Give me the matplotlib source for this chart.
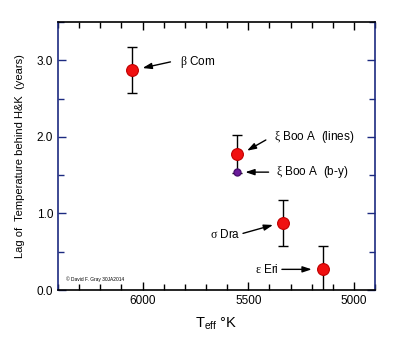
import matplotlib
matplotlib.use("Agg")
import matplotlib.pyplot as plt
from matplotlib.ticker import MultipleLocator

plt.rcParams['font.family'] = ['Liberation Sans', 'DejaVu Sans']
plt.rcParams['mathtext.fontset'] = 'custom'
plt.rcParams['mathtext.rm'] = 'Liberation Serif'
plt.rcParams['mathtext.sf'] = 'Liberation Sans'

# --- data ---
stars = ["beta Com", "xi Boo A (lines)", "sigma Dra", "eps Eri"]
teff = [6050, 5553, 5336, 5148]
lag = [2.88, 1.78, 0.88, 0.28]
lag_err = [0.30, 0.25, 0.30, 0.30]

by_teff = [5553]
by_lag = [1.54]

navy = "#1c2a80"

fig = plt.figure(figsize=(3.97, 3.40), dpi=100)
ax = fig.add_axes([0.146, 0.147, 0.799, 0.788])

ax.errorbar(teff, lag, yerr=lag_err, fmt='none', ecolor='black',
            elinewidth=1.0, capsize=3.8, capthick=1.0, zorder=2)
ax.plot(teff, lag, 'o', color='#f01010', markeredgecolor='#c00000',
        markeredgewidth=0.8, markersize=8.5, zorder=3)
ax.plot(by_teff, by_lag, 'o', color='#6a1b9a', markeredgecolor='#4a0f70',
        markersize=5, zorder=3)

ax.set_xlim(6400, 4900)
ax.set_ylim(0, 3.5)
ax.xaxis.set_major_locator(MultipleLocator(500))
ax.xaxis.set_minor_locator(MultipleLocator(100))
ax.yaxis.set_major_locator(MultipleLocator(1.0))
ax.yaxis.set_minor_locator(MultipleLocator(0.5))
ax.yaxis.set_major_formatter(plt.FormatStrFormatter('%.1f'))

ax.tick_params(which='both', direction='in', top=True, right=True,
               labelsize=8.5, width=1.0)
ax.tick_params(which='major', length=6)
ax.tick_params(which='minor', length=4)
ax.tick_params(axis='y', which='both', color=navy)

for side in ['left', 'right']:
    ax.spines[side].set_color(navy)
    ax.spines[side].set_linewidth(1.2)
for side in ['top', 'bottom']:
    ax.spines[side].set_linewidth(1.2)

ax.set_ylabel("Lag of  Temperature behind H&K  (years)", fontsize=8, labelpad=8)
ax.set_xlabel(r"T$_{\mathsf{eff}}$ °K", fontsize=10.5, labelpad=6)

arrow = dict(arrowstyle='-|>,head_length=0.6,head_width=0.2', color='black',
             lw=1.0, mutation_scale=9, shrinkA=0, shrinkB=0)
fs = 8.5
ax.annotate("", xy=(6000, 2.90), xytext=(5868, 2.98), arrowprops=arrow)
ax.text(5821, 2.98, r"$\mathrm{β}$ Com", fontsize=fs, va='center', ha='left')

ax.annotate("", xy=(5506, 1.82), xytext=(5417, 1.96), arrowprops=arrow)
ax.text(5380, 2.00, r"$\mathrm{ξ}$ Boo A  (lines)", fontsize=fs, va='center', ha='left')

ax.annotate("", xy=(5514, 1.54), xytext=(5404, 1.54), arrowprops=arrow)
ax.text(5370, 1.54, r"$\mathrm{ξ}$ Boo A  (b-y)", fontsize=fs, va='center', ha='left')

ax.annotate("", xy=(5383, 0.85), xytext=(5525, 0.74), arrowprops=arrow)
ax.text(5535, 0.73, r"$\mathrm{σ}$ Dra", fontsize=fs, va='center', ha='right')

ax.annotate("", xy=(5200, 0.27), xytext=(5341, 0.27), arrowprops=arrow)
ax.text(5355, 0.27, r"$\mathrm{ε}$ Eri", fontsize=fs, va='center', ha='right')

ax.text(6363, 0.14, "© David F. Gray 30JA2014", fontsize=3.5, va='center', ha='left')

fig.savefig("out.png", dpi=100)
